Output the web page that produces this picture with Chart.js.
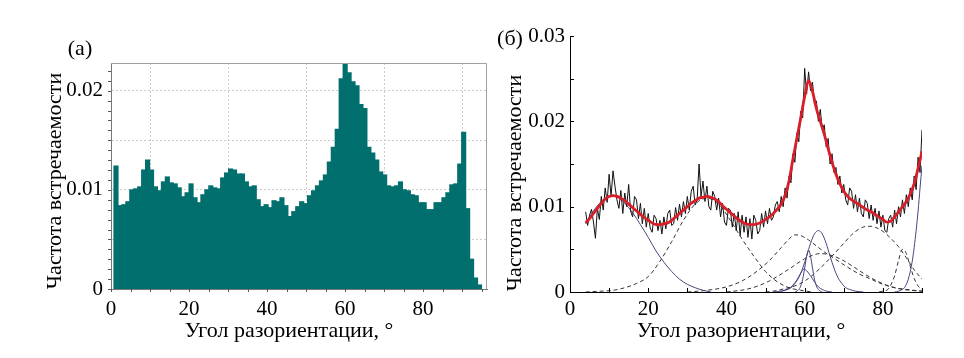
<!DOCTYPE html>
<html>
<head>
<meta charset="utf-8">
<script src="https://cdn.jsdelivr.net/npm/chart.js@4.4.0/dist/chart.umd.min.js"></script>
<style>
    body { margin: 0; background: #fff; width: 964px; height: 358px; position: relative; overflow: hidden; font-family: "Liberation Serif", serif; }
    canvas { position: absolute; top: 0; }
    #chartA { left: 0; }
    #chartB { left: 490px; }
    .lbl { position: absolute; font-size: 22px; line-height: 1; color: #000; white-space: nowrap; transform: translate(-50%, -50%); }
    .rot { transform: translate(-50%, -50%) rotate(-90deg); }
</style>
</head>
<body>
<canvas id="chartA" width="490" height="358" style="width:490px;height:358px"></canvas>
<canvas id="chartB" width="474" height="358" style="width:474px;height:358px"></canvas>
<div class="lbl" style="left:80px;top:48px">(a)</div>
<div class="lbl rot" style="left:54px;top:181px">Частота встречаемости</div>
<div class="lbl" style="left:289px;top:330px">Угол разориентации, °</div>
<div class="lbl" style="left:510px;top:38px">(б)</div>
<div class="lbl rot" style="left:514px;top:183px">Частота встречаемости</div>
<div class="lbl" style="left:741px;top:330px">Угол разориентации, °</div>
<script>
// (а) гистограмма
var histStart = 0.77;   // левый край первого столбца
var histWidth = 1.013;  // ширина столбца
var histValues = [
    0.0124, 0.0084, 0.0085, 0.0088, 0.0100, 0.0101, 0.0103, 0.0120, 0.0130, 0.0120,
    0.0103, 0.0099, 0.0108, 0.0113, 0.0107, 0.0106, 0.0102, 0.0093, 0.0097, 0.0106,
    0.0092, 0.0087, 0.0095, 0.0100, 0.0104, 0.0102, 0.0101, 0.0112, 0.0117, 0.0121,
    0.0120, 0.0116, 0.0116, 0.0108, 0.0103, 0.0104, 0.0090, 0.0083, 0.0085, 0.0082,
    0.0089, 0.0088, 0.0092, 0.0084, 0.0073, 0.0078, 0.0083, 0.0088, 0.0086, 0.0094,
    0.0099, 0.0104, 0.0109, 0.0115, 0.0128, 0.0143, 0.0161, 0.0212, 0.0227, 0.0218,
    0.0209, 0.0205, 0.0186, 0.0182, 0.0143, 0.0137, 0.0130, 0.0118, 0.0115, 0.0104,
    0.0103, 0.0104, 0.0108, 0.0100, 0.0099, 0.0095, 0.0094, 0.0087, 0.0087, 0.0080,
    0.0080, 0.0087, 0.0087, 0.0092, 0.0097, 0.0105, 0.0106, 0.0126, 0.0158, 0.0081,
    0.0030, 0.0011, 0.0004
];
var ticksAx = [0, 5, 10, 15, 20, 25, 30, 35, 40, 45, 50, 55, 60, 65, 70, 75, 80, 85, 90, 95];
var ticksAy = [0, 0.001, 0.002, 0.003, 0.004, 0.005, 0.006, 0.007, 0.008, 0.009, 0.010, 0.011,
    0.012, 0.013, 0.014, 0.015, 0.016, 0.017, 0.018, 0.019, 0.020, 0.021, 0.022];

// (б) экспериментальные данные, шаг 0.5
var dataStart = 4, dataStep = 0.5;
var dataValues = [
    0.0094, 0.0078, 0.0090, 0.0097, 0.0082, 0.0063, 0.0098, 0.0085, 0.0112, 0.0096,
    0.0122, 0.0105, 0.0138, 0.0112, 0.0142, 0.0124, 0.0108, 0.0098, 0.0119, 0.0092,
    0.0116, 0.0100, 0.0126, 0.0095, 0.0088, 0.0112, 0.0108, 0.0086, 0.0104, 0.0080,
    0.0098, 0.0076, 0.0092, 0.0075, 0.0070, 0.0090, 0.0086, 0.0072, 0.0084, 0.0068,
    0.0088, 0.0074, 0.0092, 0.0096, 0.0078, 0.0080, 0.0099, 0.0084, 0.0103, 0.0088,
    0.0106, 0.0092, 0.0112, 0.0096, 0.0118, 0.0124, 0.0102, 0.0108, 0.0150, 0.0112,
    0.0130, 0.0106, 0.0124, 0.0100, 0.0096, 0.0118, 0.0112, 0.0096, 0.0110, 0.0088,
    0.0104, 0.0082, 0.0078, 0.0098, 0.0096, 0.0076, 0.0092, 0.0072, 0.0094, 0.0066,
    0.0090, 0.0070, 0.0088, 0.0064, 0.0086, 0.0062, 0.0090, 0.0084, 0.0068, 0.0072,
    0.0092, 0.0076, 0.0095, 0.0080, 0.0098, 0.0084, 0.0088, 0.0102, 0.0106, 0.0094,
    0.0112, 0.0100, 0.0122, 0.0110, 0.0136, 0.0128, 0.0162, 0.0152, 0.0186, 0.0176,
    0.0212, 0.0204, 0.0262, 0.0232, 0.0258, 0.0236, 0.0246, 0.0220, 0.0224, 0.0200,
    0.0214, 0.0190, 0.0196, 0.0170, 0.0180, 0.0150, 0.0162, 0.0140, 0.0146, 0.0126,
    0.0136, 0.0116, 0.0126, 0.0108, 0.0102, 0.0122, 0.0118, 0.0098, 0.0114, 0.0094,
    0.0110, 0.0092, 0.0088, 0.0108, 0.0104, 0.0086, 0.0102, 0.0084, 0.0098, 0.0080,
    0.0095, 0.0076, 0.0090, 0.0072, 0.0070, 0.0086, 0.0090, 0.0076, 0.0096, 0.0080,
    0.0100, 0.0088, 0.0108, 0.0092, 0.0114, 0.0100, 0.0122, 0.0108, 0.0136, 0.0120,
    0.0158, 0.0140, 0.0190
];

// суммарная аппроксимация, шаг 1
var fitStart = 4, fitStep = 1;
var fitValues = [
    0.0081, 0.0086, 0.0092, 0.0098, 0.0104, 0.0109, 0.0112, 0.0113, 0.0112, 0.0110,
    0.0107, 0.0103, 0.0099, 0.0095, 0.0091, 0.0087, 0.0084, 0.0081, 0.0079, 0.0079,
    0.0080, 0.0081, 0.0084, 0.0088, 0.0092, 0.0096, 0.0100, 0.0104, 0.0107, 0.0110,
    0.0111, 0.0112, 0.0111, 0.0109, 0.0106, 0.0101, 0.0097, 0.0093, 0.0089, 0.0085,
    0.0082, 0.0080, 0.0079, 0.0079, 0.0080, 0.0082, 0.0085, 0.0088, 0.0092, 0.0097,
    0.0103, 0.0113, 0.0130, 0.0156, 0.0180, 0.0204, 0.0229, 0.0248, 0.0235, 0.0215,
    0.0200, 0.0185, 0.0168, 0.0152, 0.0138, 0.0127, 0.0118, 0.0112, 0.0108, 0.0105,
    0.0102, 0.0099, 0.0096, 0.0094, 0.0091, 0.0088, 0.0085, 0.0082, 0.0083, 0.0088,
    0.0094, 0.0100, 0.0106, 0.0115, 0.0127, 0.0145, 0.0165
];

// компоненты разложения
var comp1x = [4, 6, 8, 10, 11, 12, 14, 16, 18, 20, 22, 24, 26, 28, 30, 32, 34, 36];
var comp1y = [0.0080, 0.0095, 0.0106, 0.0112, 0.0113, 0.0112, 0.0104, 0.0093, 0.0079, 0.0064, 0.0048, 0.0035, 0.0024, 0.0015, 0.0009, 0.0005, 0.0002, 0];
var comp2x = [4, 8, 11, 14, 17, 20, 23, 26, 29, 32, 35, 38, 41, 44, 47, 50, 53, 56, 59, 62];
var comp2y = [0, 0.0001, 0.0002, 0.0005, 0.0010, 0.0018, 0.0036, 0.0059, 0.0084, 0.0103, 0.0110, 0.0103, 0.0084, 0.0062, 0.0042, 0.0024, 0.0012, 0.0005, 0.0002, 0];
var comp3x = [30, 35, 40, 44, 48, 51, 54, 56, 57.5, 59, 61, 63, 65, 68, 71, 74, 77, 80, 83, 86, 90];
var comp3y = [0, 0.0002, 0.0006, 0.0013, 0.0025, 0.0037, 0.0052, 0.0062, 0.0067, 0.0066, 0.0061, 0.0054, 0.0047, 0.0038, 0.0029, 0.0021, 0.0015, 0.0009, 0.0005, 0.0003, 0.0001];
var comp4x = [54, 55.5, 56.5, 57.5, 58.5, 59.5, 60.5, 61.5, 62.5, 63.5, 64.5, 65.5, 66.5, 67.5, 68.5, 69.5, 70.5, 71.5, 73, 75];
var comp4y = [0.0001, 0.0003, 0.0005, 0.0010, 0.0017, 0.0028, 0.0042, 0.0057, 0.0068, 0.0072, 0.0068, 0.0057, 0.0042, 0.0028, 0.0017, 0.0010, 0.0005, 0.0003, 0.0001, 0];
var comp5x = [57.5, 58, 58.5, 59, 59.5, 60, 60.5, 61, 61.5, 62, 62.5, 63, 63.5, 64, 64.5];
var comp5y = [0, 0.0001, 0.0003, 0.0007, 0.0015, 0.0028, 0.0042, 0.0049, 0.0042, 0.0028, 0.0015, 0.0007, 0.0003, 0.0001, 0];
var comp6x = [52, 54, 55, 56, 57, 58, 59, 59.8, 60.5, 61.5, 62.5, 63.5, 64.5, 65.5, 67];
var comp6y = [0, 0.0001, 0.0002, 0.0004, 0.0008, 0.0014, 0.0022, 0.0027, 0.0025, 0.0019, 0.0012, 0.0006, 0.0003, 0.0001, 0];
var comp7x = [40, 45, 48, 51, 54, 57, 60, 62, 64, 66, 69, 72, 75, 78, 81, 84, 87, 90];
var comp7y = [0, 0.0003, 0.0007, 0.0013, 0.0021, 0.0030, 0.0039, 0.0043, 0.0045, 0.0044, 0.0039, 0.0031, 0.0022, 0.0014, 0.0008, 0.0004, 0.0002, 0.0001];
var comp8x = [50, 52, 55, 58, 61, 64, 67, 70, 72, 74, 76, 77, 78, 80, 82, 84, 86, 88, 90];
var comp8y = [0, 0.0001, 0.0004, 0.0008, 0.0016, 0.0028, 0.0042, 0.0057, 0.0067, 0.0074, 0.0077, 0.0077, 0.0076, 0.0071, 0.0063, 0.0053, 0.0040, 0.0026, 0.0015];
var comp9x = [79, 80, 81, 82, 83, 84, 85, 85.5, 86, 87, 88, 89, 90];
var comp9y = [0, 0.0001, 0.0002, 0.0008, 0.0019, 0.0037, 0.0050, 0.0049, 0.0045, 0.0030, 0.0016, 0.0007, 0.0003];
var comp10x = [83, 84, 85, 85.5, 86, 86.5, 87, 87.5, 88, 88.5, 89, 89.5, 90];
var comp10y = [0, 0.0001, 0.0003, 0.0005, 0.0009, 0.0015, 0.0024, 0.0036, 0.0052, 0.0072, 0.0095, 0.0122, 0.0148];

var ticksBx = [0, 10, 20, 30, 40, 50, 60, 70, 80, 90];
var ticksBy = [0, 0.005, 0.01, 0.015, 0.02, 0.025, 0.03];

Chart.defaults.font.family = '"Liberation Serif", serif';
Chart.defaults.font.size = 21;
Chart.defaults.color = '#000';
var tickFont = {family: '"Liberation Serif", serif', size: 21};

function toPoints(xs, ys) {
    var pts = [];
    for (var i = 0; i < ys.length; i++) pts.push({x: xs[i], y: ys[i]});
    return pts;
}
function stepPoints(start, step, ys) {
    var pts = [];
    for (var i = 0; i < ys.length; i++) pts.push({x: start + i * step, y: ys[i]});
    return pts;
}
function histPoints() {
    var pts = [];
    for (var i = 0; i < histValues.length; i++) {
        pts.push({x: histStart + (i + 0.5) * histWidth, y: histValues[i]});
    }
    return pts;
}
function compLine(xs, ys, solid) {
    return {
        data: toPoints(xs, ys),
        borderColor: solid ? '#46467e' : '#333',
        borderWidth: 1,
        borderDash: solid ? [] : [4, 3],
        cubicInterpolationMode: 'monotone',
        pointRadius: 0
    };
}

// засечки осей
var tickMarks = {
    id: 'tickMarks',
    afterDraw: function (chart, args, opts) {
        var ctx = chart.ctx, xs = chart.scales.x, ys = chart.scales.y, a = chart.chartArea;
        ctx.save();
        ctx.strokeStyle = opts.color;
        ctx.lineWidth = 1;
        ctx.beginPath();
        opts.xValues.forEach(function (v) {
            var px = Math.round(xs.getPixelForValue(v)) + 0.5;
            ctx.moveTo(px, a.bottom);
            ctx.lineTo(px, a.bottom + opts.len);
        });
        opts.yValues.forEach(function (v) {
            var py = Math.round(ys.getPixelForValue(v)) + 0.5;
            ctx.moveTo(a.left, py);
            ctx.lineTo(a.left - opts.len, py);
        });
        ctx.stroke();
        if (opts.frame) {
            ctx.strokeStyle = opts.frame;
            ctx.beginPath();
            ctx.moveTo(a.left, a.top + 0.5);
            ctx.lineTo(a.right - 0.5, a.top + 0.5);
            ctx.lineTo(a.right - 0.5, a.bottom);
            ctx.stroke();
        }
        ctx.restore();
    }
};

new Chart(document.getElementById('chartA'), {
    type: 'bar',
    data: {
        datasets: [{
            data: histPoints(),
            backgroundColor: '#006f6d',
            borderWidth: 0,
            inflateAmount: 0.6,
            barPercentage: 1,
            categoryPercentage: 1
        }]
    },
    options: {
        responsive: false,
        animation: false,
        layout: {padding: {left: 0, right: 3, top: 63, bottom: 0}},
        plugins: {
            legend: {display: false},
            tooltip: {enabled: false},
            tickMarks: {xValues: ticksAx, yValues: ticksAy, len: 3, color: '#555', frame: '#a0a0a0'}
        },
        scales: {
            x: {
                type: 'linear', offset: false, min: 0, max: 96.4,
                ticks: {stepSize: 20, includeBounds: false, padding: 8, maxRotation: 0, font: tickFont},
                grid: {color: '#cccccc', drawTicks: false},
                border: {color: '#777', dash: [2, 2]},
                afterFit: function (s) { s.height = 69; }
            },
            y: {
                min: 0, max: 0.0228,
                ticks: {
                    stepSize: 0.005, includeBounds: false, padding: 8, font: tickFont,
                    callback: function (v) {
                        var k = Math.round(v / 0.005);
                        if (k % 2) return '';
                        return k === 0 ? '0' : (k * 0.005).toFixed(2);
                    }
                },
                grid: {color: '#cccccc', drawTicks: false},
                border: {color: '#777', dash: [2, 2]},
                afterFit: function (s) { s.width = 111; }
            }
        }
    },
    plugins: [tickMarks]
});

new Chart(document.getElementById('chartB'), {
    type: 'line',
    data: {
        datasets: [
            {data: stepPoints(fitStart, fitStep, fitValues), borderColor: '#d81e28', borderWidth: 2.8, cubicInterpolationMode: 'monotone', pointRadius: 0},
            {data: stepPoints(dataStart, dataStep, dataValues), borderColor: '#111', borderWidth: 1, tension: 0, pointRadius: 0},
            compLine(comp1x, comp1y, true),
            compLine(comp2x, comp2y, false),
            compLine(comp3x, comp3y, false),
            compLine(comp4x, comp4y, true),
            compLine(comp5x, comp5y, true),
            compLine(comp6x, comp6y, true),
            compLine(comp7x, comp7y, false),
            compLine(comp8x, comp8y, false),
            compLine(comp9x, comp9y, false),
            compLine(comp10x, comp10y, true)
        ]
    },
    options: {
        responsive: false,
        animation: false,
        layout: {padding: {left: 0, right: 42, top: 36, bottom: 0}},
        plugins: {
            legend: {display: false},
            tooltip: {enabled: false},
            tickMarks: {xValues: ticksBx, yValues: ticksBy, len: -4, color: '#000'}
        },
        scales: {
            x: {
                type: 'linear', min: 0, max: 90,
                ticks: {stepSize: 20, includeBounds: false, padding: 5, maxRotation: 0, font: tickFont},
                grid: {display: false, drawTicks: false},
                border: {color: '#000'},
                afterFit: function (s) { s.height = 66; }
            },
            y: {
                min: 0, max: 0.03,
                ticks: {
                    stepSize: 0.01, includeBounds: false, padding: 5, font: tickFont,
                    callback: function (v) {
                        var k = Math.round(v / 0.01);
                        return k === 0 ? '0' : (k * 0.01).toFixed(2);
                    }
                },
                grid: {display: false, drawTicks: false},
                border: {color: '#000'},
                afterFit: function (s) { s.width = 80; }
            }
        }
    },
    plugins: [tickMarks]
});
</script>
</body>
</html>
